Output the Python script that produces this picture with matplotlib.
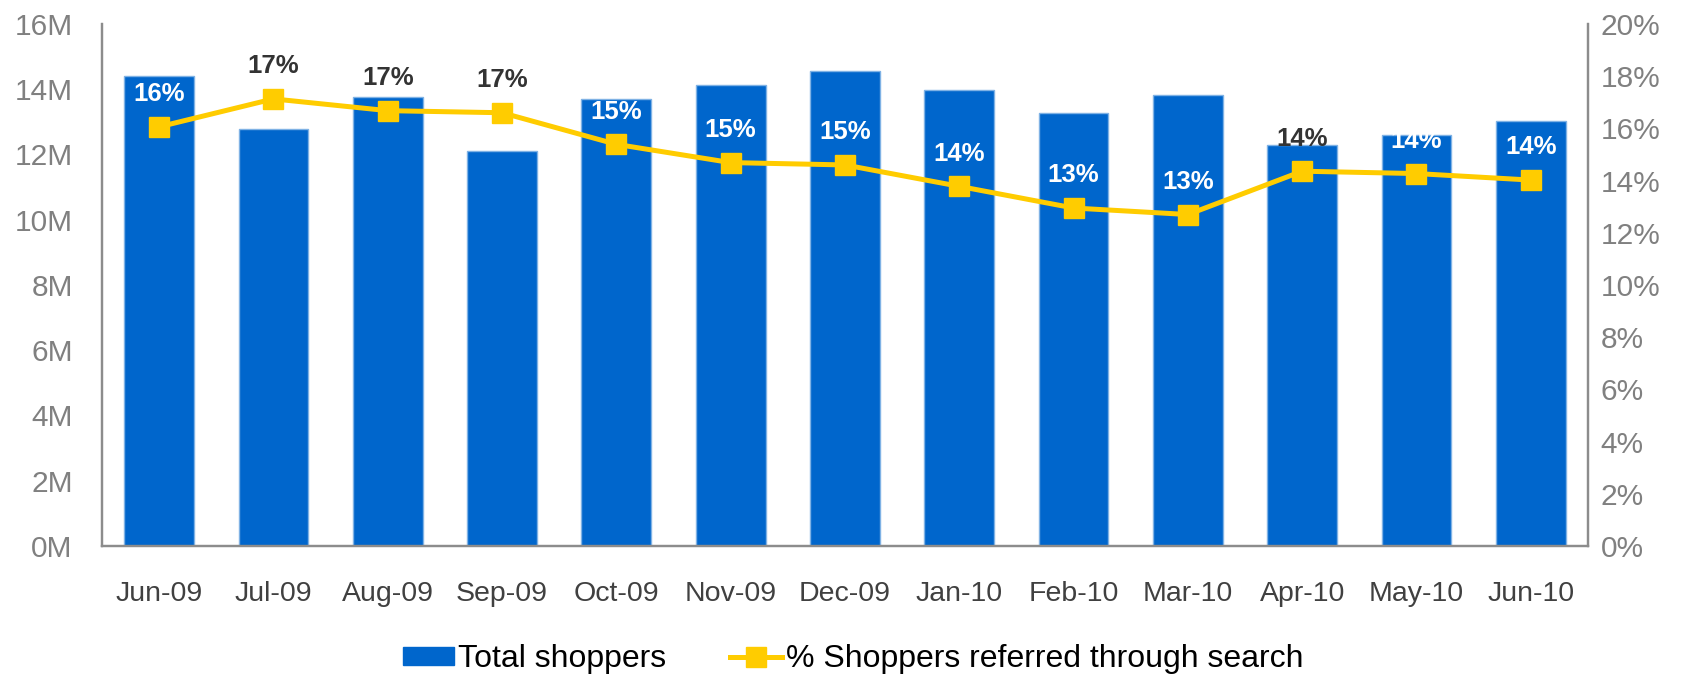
import matplotlib
matplotlib.use("Agg")
import matplotlib.pyplot as plt
from matplotlib.lines import Line2D
from matplotlib.patches import Patch

months = ["Jun-09", "Jul-09", "Aug-09", "Sep-09", "Oct-09", "Nov-09", "Dec-09",
          "Jan-10", "Feb-10", "Mar-10", "Apr-10", "May-10", "Jun-10"]
total_shoppers_m = [14.42, 12.77, 13.76, 12.10, 13.69, 14.12, 14.56,
                    13.99, 13.26, 13.83, 12.30, 12.60, 13.03]
search_share_pct = [16.06, 17.13, 16.68, 16.60, 15.39, 14.69, 14.60,
                    13.78, 12.95, 12.70, 14.36, 14.27, 14.02]
# labels drawn above the bars (outside) use dark text, the rest white
label_outside = [False, True, True, True, False, False, False,
                 False, False, False, True, False, False]
left_ticks = [0, 2, 4, 6, 8, 10, 12, 14, 16]
right_ticks = [0, 2, 4, 6, 8, 10, 12, 14, 16, 18, 20]

BLUE = "#0066CC"
YELLOW = "#FFCC00"
AXIS_GRAY = "#8C8C8C"
TICK_GRAY = "#808080"
DARK = "#404040"

plt.rcParams["font.family"] = ["Liberation Sans", "DejaVu Sans"]

fig = plt.figure(figsize=(16.96, 6.78), dpi=100)
ax = fig.add_axes([0.0601, 0.1947, 0.8762, 0.7699])
x = list(range(len(months)))

ax.bar(x, total_shoppers_m, width=0.61, color=BLUE, edgecolor="#7FB2E5",
       linewidth=1.0, zorder=2)
ax.set_xlim(-0.5, len(months) - 0.5)
ax.set_ylim(0, 16)
ax.set_yticks(left_ticks)
ax.set_yticklabels([f"{v}M" for v in left_ticks])
ax.set_xticks(x)
ax.set_xticklabels(months)
ax.tick_params(axis="y", length=0, pad=21, labelsize=21.5, labelcolor=TICK_GRAY)
ax.tick_params(axis="x", length=0, pad=25.5, labelsize=20.5, labelcolor=DARK)
ax.spines["top"].set_visible(False)
for side in ("left", "bottom", "right"):
    ax.spines[side].set_color(AXIS_GRAY)
    ax.spines[side].set_linewidth(1.6)

ax2 = ax.twinx()
ax2.plot(x, search_share_pct, color=YELLOW, linewidth=3.6, marker="s",
         markersize=15, markerfacecolor=YELLOW, markeredgecolor=YELLOW, zorder=3)
ax2.set_ylim(0, 20)
ax2.set_yticks(right_ticks)
ax2.set_yticklabels([f"{v}%" for v in right_ticks])
ax2.tick_params(axis="y", length=0, pad=9, labelsize=21.5, labelcolor=TICK_GRAY)
ax2.spines["top"].set_visible(False)
for side in ("left", "bottom", "right"):
    ax2.spines[side].set_color(AXIS_GRAY)
    ax2.spines[side].set_linewidth(1.6)

for xi, v, outside in zip(x, search_share_pct, label_outside):
    ax2.annotate(f"{round(v)}%", (xi, v), xytext=(0, 23.5), textcoords="offset points",
                 ha="center", va="center", fontsize=18.5, fontweight="bold",
                 color=("#333333" if outside else "white"), zorder=4)

handles = [Patch(facecolor=BLUE, edgecolor=BLUE),
           Line2D([0], [0], color=YELLOW, linewidth=3.6, marker="s",
                  markersize=14, markerfacecolor=YELLOW, markeredgecolor=YELLOW)]
fig.legend(handles, ["Total shoppers", "% Shoppers referred through search"],
           loc="center", bbox_to_anchor=(0.503, 0.028), ncol=2, frameon=False,
           prop={"size": 23}, handlelength=1.62, handleheight=0.5,
           handletextpad=0.12, columnspacing=2.0, borderpad=0, labelcolor="black")

fig.savefig("out.png", dpi=100)
